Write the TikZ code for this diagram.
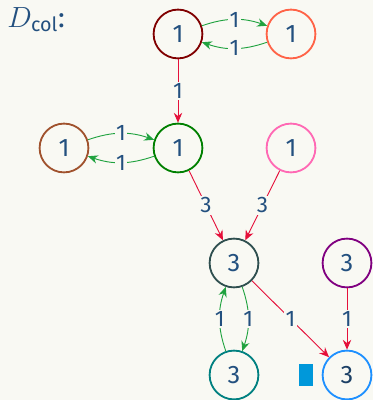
\documentclass[tikz,border=0pt]{standalone}
\usepackage{amsmath}
\usepackage{fontspec}
\setmainfont{Fira Sans}
\usetikzlibrary{arrows.meta,positioning}
\definecolor{slide-bg}{HTML}{F9F9F3}
\definecolor{col-text}{HTML}{23507F}
\definecolor{edge-green}{HTML}{1FA23E}
\definecolor{edge-red}{HTML}{E5103A}
\definecolor{mark-blue}{HTML}{0098DA}
\tikzset{
  col-vertex/.style={circle, draw, line width=1.3pt, minimum size=1.22cm, inner sep=0pt,
    text=col-text, font=\fontsize{18}{20}\selectfont},
  col-edge/.style={-{Stealth[length=7pt,width=6pt]}, line width=0.65pt},
  col-green/.style={col-edge, draw=edge-green, bend left=19},
  col-red/.style={col-edge, draw=edge-red},
  col-weight/.style={fill=slide-bg, inner sep=1pt, text=col-text, font=\fontsize{16}{18}\selectfont}
}

\begin{document}
\begin{tikzpicture}
  \fill[slide-bg] (0,0) rectangle (9.325,10);
  \useasboundingbox (0,0) rectangle (9.325,10);
  \node[anchor=base west, inner sep=0pt, text=col-text, font=\fontsize{20}{22}\selectfont] (title) at (0.18,9.32) {$D_{\text{col}}$:};
  \node[col-vertex, draw={rgb,255:red,128;green,0;blue,0}] (v1) at (4.45,9.15) {1};
  \node[col-vertex, draw={rgb,255:red,255;green,99;blue,71}] (v2) at (7.275,9.15) {1};
  \node[col-vertex, draw={rgb,255:red,160;green,82;blue,45}] (v3) at (1.6,6.3) {1};
  \node[col-vertex, draw={rgb,255:red,0;green,128;blue,0}] (v4) at (4.45,6.3) {1};
  \node[col-vertex, draw={rgb,255:red,255;green,105;blue,180}] (v5) at (7.275,6.3) {1};
  \node[col-vertex, draw={rgb,255:red,47;green,79;blue,79}] (v6) at (5.85,3.425) {3};
  \node[col-vertex, draw={rgb,255:red,128;green,0;blue,128}] (v7) at (8.675,3.425) {3};
  \node[col-vertex, draw={rgb,255:red,0;green,128;blue,128}] (v8) at (5.85,0.625) {3};
  \node[col-vertex, draw={rgb,255:red,30;green,144;blue,255}, text=col-text!80!black] (v9) at (8.675,0.625) {3};
  \node[fill=mark-blue, minimum width=0.33cm, minimum height=0.55cm, inner sep=0pt, left=0.22cm of v9] (cursor) {};
  \draw[col-green] (v1) to node[col-weight] {1} (v2);
  \draw[col-green] (v2) to node[col-weight] {1} (v1);
  \draw[col-green] (v3) to node[col-weight] {1} (v4);
  \draw[col-green] (v4) to node[col-weight] {1} (v3);
  \draw[col-green] (v8) to node[col-weight] {1} (v6);
  \draw[col-green] (v6) to node[col-weight] {1} (v8);
  \draw[col-red] (v1) -- node[col-weight] {1} (v4);
  \draw[col-red] (v4) -- node[col-weight] {3} (v6);
  \draw[col-red] (v5) -- node[col-weight] {3} (v6);
  \draw[col-red] (v6) -- node[col-weight] {1} (v9);
  \draw[col-red] (v7) -- node[col-weight] {1} (v9);
\end{tikzpicture}
\end{document}
